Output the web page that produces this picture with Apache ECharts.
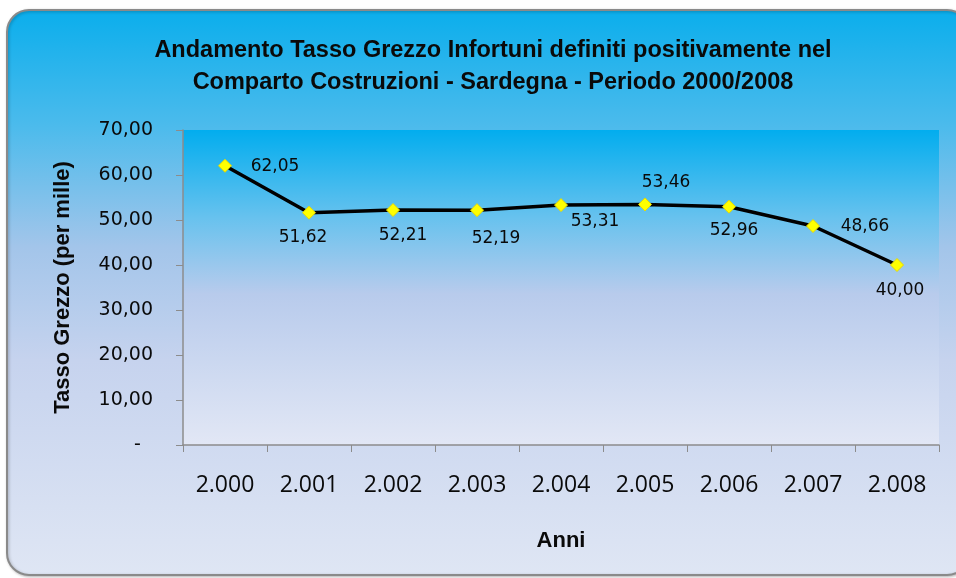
<!DOCTYPE html>
<html>
<head>
<meta charset="utf-8">
<script src="https://cdn.jsdelivr.net/npm/echarts@6/dist/echarts.min.js"></script>
<style>
  html, body { margin: 0; padding: 0; background: #ffffff; }
  #main { width: 956px; height: 578px; }
</style>
</head>
<body>
<div id="main"></div>
<script>
// anni (come nel foglio Excel originale)
var anni = ['2.000', '2.001', '2.002', '2.003', '2.004', '2.005', '2.006', '2.007', '2.008'];
// tasso grezzo per mille
var tassoGrezzo = [62.05, 51.62, 52.21, 52.19, 53.31, 53.46, 52.96, 48.66, 40.00];
// etichette asse y
var yMin = 0, yMax = 70, yStep = 10;

// spostamento delle etichette dati rispetto al punto (solo stile)
var labelOffsets = [[50, 1], [-6, 25], [10, 26], [19, 28], [34, 16], [21, -22], [5, 24], [52, 1], [3, 26]];

function fmtNum(v) {
    return v.toFixed(2).replace('.', ',');
}

var chart = echarts.init(document.getElementById('main'));

var seriesData = tassoGrezzo.map(function (v, i) {
    return {
        value: v,
        label: { offset: labelOffsets[i] }
    };
});

var option = {
    animation: false,
    graphic: [{
        type: 'rect',
        z: -10,
        silent: true,
        shape: { x: 7, y: 10, width: 962, height: 565, r: 22 },
        style: {
            fill: {
                type: 'linear', x: 0, y: 0, x2: 0, y2: 1,
                colorStops: [
                    { offset: 0, color: '#0aaeec' },
                    { offset: 0.21, color: '#4dbbec' },
                    { offset: 0.42, color: '#a3c5ea' },
                    { offset: 0.62, color: '#c6d3ee' },
                    { offset: 1, color: '#dfe6f4' }
                ]
            },
            stroke: '#8a8a8a',
            lineWidth: 2,
            shadowColor: 'rgba(0,0,0,0.25)',
            shadowBlur: 3,
            shadowOffsetX: 1,
            shadowOffsetY: 1
        }
    }],
    title: {
        text: 'Andamento Tasso Grezzo Infortuni definiti positivamente nel\nComparto Costruzioni - Sardegna - Periodo 2000/2008',
        left: 488,
        top: 30,
        textAlign: 'center',
        textStyle: {
            fontFamily: 'Liberation Sans',
            fontWeight: 'bold',
            fontSize: 23.5,
            lineHeight: 32,
            color: '#0a0a0a'
        }
    },
    grid: {
        left: 183,
        top: 130,
        right: 17,
        bottom: 133,
        show: true,
        borderWidth: 0,
        backgroundColor: {
            type: 'linear', x: 0, y: 0, x2: 0, y2: 1,
            colorStops: [
                { offset: 0, color: '#02adee' },
                { offset: 0.28, color: '#68c2ee' },
                { offset: 0.52, color: '#b8cbec' },
                { offset: 1, color: '#e2e7f5' }
            ]
        }
    },
    xAxis: {
        type: 'category',
        data: anni,
        boundaryGap: true,
        name: 'Anni',
        nameLocation: 'middle',
        nameGap: 85,
        nameTextStyle: {
            fontFamily: 'Liberation Sans',
            fontWeight: 'bold',
            fontSize: 22,
            color: '#0a0a0a'
        },
        axisLine: { lineStyle: { color: '#8c8c8c', width: 1.5 } },
        axisTick: { show: true, length: 7, lineStyle: { color: '#8c8c8c' } },
        axisLabel: {
            margin: 29,
            fontFamily: 'Open Sans',
            fontSize: 23,
            color: '#0a0a0a'
        }
    },
    yAxis: {
        type: 'value',
        min: yMin,
        max: yMax,
        interval: yStep,
        name: 'Tasso Grezzo (per mille)',
        nameLocation: 'middle',
        nameGap: 109,
        nameTextStyle: {
            fontFamily: 'Liberation Sans',
            fontWeight: 'bold',
            fontSize: 22,
            color: '#0a0a0a'
        },
        splitLine: { show: false },
        axisLine: { show: true, lineStyle: { color: '#8c8c8c', width: 1.5 } },
        axisTick: { show: true, length: 7, lineStyle: { color: '#8c8c8c' } },
        axisLabel: {
            margin: 30,
            fontFamily: 'DejaVu Sans',
            fontSize: 19,
            color: '#0a0a0a',
            formatter: function (v) {
                return v === 0 ? '-  ' : fmtNum(v);
            }
        }
    },
    series: [{
        type: 'line',
        data: seriesData,
        lineStyle: { color: '#000000', width: 3.5 },
        symbol: 'diamond',
        symbolSize: 13,
        itemStyle: { color: '#ffff00', borderColor: '#e8d800', borderWidth: 1 },
        label: {
            show: true,
            position: 'inside',
            fontFamily: 'DejaVu Sans',
            fontSize: 17,
            color: '#0a0a0a',
            formatter: function (p) {
                return fmtNum(p.value);
            }
        }
    }]
};

chart.setOption(option);
</script>
</body>
</html>
